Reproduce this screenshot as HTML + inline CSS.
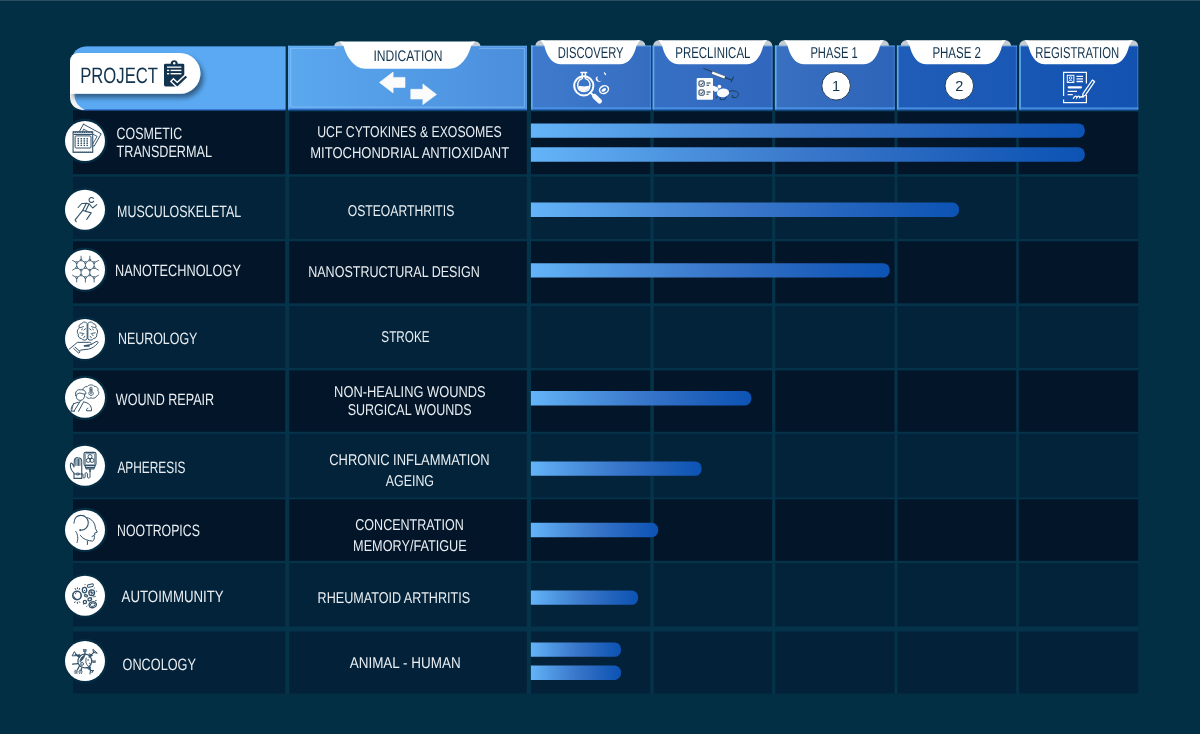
<!DOCTYPE html>
<html><head><meta charset="utf-8"><title>Pipeline</title>
<style>html,body{margin:0;padding:0;background:#032f45;}body{width:1200px;height:734px;overflow:hidden;font-family:"Liberation Sans",sans-serif;}svg{display:block;}text{font-family:"Liberation Sans",sans-serif;}svg{opacity:0.999;}text{text-rendering:geometricPrecision;}</style>
</head><body>
<svg width="1200" height="734" viewBox="0 0 1200 734">
<defs>
<linearGradient id="bar" x1="0" y1="0" x2="1" y2="0"><stop offset="0" stop-color="#64b4f9"/><stop offset="0.25" stop-color="#4d94df"/><stop offset="0.5" stop-color="#3977ca"/><stop offset="0.75" stop-color="#2263bd"/><stop offset="1" stop-color="#0c53b4"/></linearGradient>
<linearGradient id="g1" x1="0" y1="0" x2="1" y2="0"><stop offset="0" stop-color="#5ba8ef"/><stop offset="1" stop-color="#4b8edc"/></linearGradient>
<linearGradient id="g2" x1="0" y1="0" x2="1" y2="0"><stop offset="0" stop-color="#3f7bcd"/><stop offset="1" stop-color="#366dc1"/></linearGradient>
<linearGradient id="g3" x1="0" y1="0" x2="1" y2="0"><stop offset="0" stop-color="#3670c4"/><stop offset="1" stop-color="#3067bd"/></linearGradient>
<linearGradient id="g4" x1="0" y1="0" x2="1" y2="0"><stop offset="0" stop-color="#3970c1"/><stop offset="1" stop-color="#2e64b9"/></linearGradient>
<linearGradient id="g5" x1="0" y1="0" x2="1" y2="0"><stop offset="0" stop-color="#205db9"/><stop offset="1" stop-color="#1a58b5"/></linearGradient>
<linearGradient id="g6" x1="0" y1="0" x2="1" y2="0"><stop offset="0" stop-color="#1957b5"/><stop offset="1" stop-color="#1452b1"/></linearGradient>
<filter id="sh" x="-20%" y="-20%" width="150%" height="180%"><feGaussianBlur in="SourceAlpha" stdDeviation="2.6"/><feOffset dx="2.5" dy="3.6"/><feComponentTransfer><feFuncA type="linear" slope="0.45"/></feComponentTransfer><feMerge><feMergeNode/><feMergeNode in="SourceGraphic"/></feMerge></filter>
</defs>
<rect width="1200" height="734" fill="#032f45"/>
<rect x="0" y="0" width="1200" height="1" fill="#2c4d60"/>
<rect x="73" y="110" width="1065.2" height="583.6" fill="#05334a"/>
<rect x="73.0" y="110.4" width="212.2" height="63.8" fill="#021529"/>
<rect x="289.2" y="111.5" width="237.6" height="62.7" fill="#021529"/>
<rect x="531.0" y="111.5" width="119.3" height="62.7" fill="#021529"/>
<rect x="653.8" y="111.5" width="118.3" height="62.7" fill="#021529"/>
<rect x="775.3" y="111.5" width="119.2" height="62.7" fill="#021529"/>
<rect x="897.5" y="111.5" width="118.7" height="62.7" fill="#021529"/>
<rect x="1018.8" y="111.5" width="119.4" height="62.7" fill="#021529"/>
<rect x="73.0" y="176.6" width="212.2" height="62.4" fill="#03233a"/>
<rect x="289.2" y="176.6" width="237.6" height="62.4" fill="#03233a"/>
<rect x="531.0" y="176.6" width="119.3" height="62.4" fill="#03233a"/>
<rect x="653.8" y="176.6" width="118.3" height="62.4" fill="#03233a"/>
<rect x="775.3" y="176.6" width="119.2" height="62.4" fill="#03233a"/>
<rect x="897.5" y="176.6" width="118.7" height="62.4" fill="#03233a"/>
<rect x="1018.8" y="176.6" width="119.4" height="62.4" fill="#03233a"/>
<rect x="73.0" y="241.3" width="212.2" height="62.0" fill="#021529"/>
<rect x="289.2" y="241.3" width="237.6" height="62.0" fill="#021529"/>
<rect x="531.0" y="241.3" width="119.3" height="62.0" fill="#021529"/>
<rect x="653.8" y="241.3" width="118.3" height="62.0" fill="#021529"/>
<rect x="775.3" y="241.3" width="119.2" height="62.0" fill="#021529"/>
<rect x="897.5" y="241.3" width="118.7" height="62.0" fill="#021529"/>
<rect x="1018.8" y="241.3" width="119.4" height="62.0" fill="#021529"/>
<rect x="73.0" y="306.0" width="212.2" height="62.0" fill="#03233a"/>
<rect x="289.2" y="306.0" width="237.6" height="62.0" fill="#03233a"/>
<rect x="531.0" y="306.0" width="119.3" height="62.0" fill="#03233a"/>
<rect x="653.8" y="306.0" width="118.3" height="62.0" fill="#03233a"/>
<rect x="775.3" y="306.0" width="119.2" height="62.0" fill="#03233a"/>
<rect x="897.5" y="306.0" width="118.7" height="62.0" fill="#03233a"/>
<rect x="1018.8" y="306.0" width="119.4" height="62.0" fill="#03233a"/>
<rect x="73.0" y="370.4" width="212.2" height="61.3" fill="#021529"/>
<rect x="289.2" y="370.4" width="237.6" height="61.3" fill="#021529"/>
<rect x="531.0" y="370.4" width="119.3" height="61.3" fill="#021529"/>
<rect x="653.8" y="370.4" width="118.3" height="61.3" fill="#021529"/>
<rect x="775.3" y="370.4" width="119.2" height="61.3" fill="#021529"/>
<rect x="897.5" y="370.4" width="118.7" height="61.3" fill="#021529"/>
<rect x="1018.8" y="370.4" width="119.4" height="61.3" fill="#021529"/>
<rect x="73.0" y="433.8" width="212.2" height="63.7" fill="#03233a"/>
<rect x="289.2" y="433.8" width="237.6" height="63.7" fill="#03233a"/>
<rect x="531.0" y="433.8" width="119.3" height="63.7" fill="#03233a"/>
<rect x="653.8" y="433.8" width="118.3" height="63.7" fill="#03233a"/>
<rect x="775.3" y="433.8" width="119.2" height="63.7" fill="#03233a"/>
<rect x="897.5" y="433.8" width="118.7" height="63.7" fill="#03233a"/>
<rect x="1018.8" y="433.8" width="119.4" height="63.7" fill="#03233a"/>
<rect x="73.0" y="499.3" width="212.2" height="61.5" fill="#021529"/>
<rect x="289.2" y="499.3" width="237.6" height="61.5" fill="#021529"/>
<rect x="531.0" y="499.3" width="119.3" height="61.5" fill="#021529"/>
<rect x="653.8" y="499.3" width="118.3" height="61.5" fill="#021529"/>
<rect x="775.3" y="499.3" width="119.2" height="61.5" fill="#021529"/>
<rect x="897.5" y="499.3" width="118.7" height="61.5" fill="#021529"/>
<rect x="1018.8" y="499.3" width="119.4" height="61.5" fill="#021529"/>
<rect x="73.0" y="563.0" width="212.2" height="63.5" fill="#03233a"/>
<rect x="289.2" y="563.0" width="237.6" height="63.5" fill="#03233a"/>
<rect x="531.0" y="563.0" width="119.3" height="63.5" fill="#03233a"/>
<rect x="653.8" y="563.0" width="118.3" height="63.5" fill="#03233a"/>
<rect x="775.3" y="563.0" width="119.2" height="63.5" fill="#03233a"/>
<rect x="897.5" y="563.0" width="118.7" height="63.5" fill="#03233a"/>
<rect x="1018.8" y="563.0" width="119.4" height="63.5" fill="#03233a"/>
<rect x="73.0" y="631.5" width="212.2" height="62.1" fill="#03223a"/>
<rect x="289.2" y="631.5" width="237.6" height="62.1" fill="#03223a"/>
<rect x="531.0" y="631.5" width="119.3" height="62.1" fill="#03223a"/>
<rect x="653.8" y="631.5" width="118.3" height="62.1" fill="#03223a"/>
<rect x="775.3" y="631.5" width="119.2" height="62.1" fill="#03223a"/>
<rect x="897.5" y="631.5" width="118.7" height="62.1" fill="#03223a"/>
<rect x="1018.8" y="631.5" width="119.4" height="62.1" fill="#03223a"/>
<path d="M87 46.6 H285.5 V110.5 H84 C76 110.5 72 104 72 96 V61 C72 52 78 46.6 87 46.6 Z" fill="#2f6ac6"/>
<path d="M87 46.6 H285.5 V109.2 H84 C76 109.2 72 104 72 96 V61 C72 52 78 46.6 87 46.6 Z" fill="#5aa9f2"/>
<path d="M70 90 V97 C70 105 75 109.9 85 109.9 C79 107 75.2 103 74.6 96 V90 Z" fill="#f2f4f6"/>
<g filter="url(#sh)"><path d="M78 53 H180 A20.4 20.4 0 0 1 180 93.8 H70 V61 A8 8 0 0 1 78 53 Z" fill="#ffffff"/></g>
<text x="80.2" y="83" font-size="22.3" fill="#12334d" textLength="77.8" lengthAdjust="spacingAndGlyphs">PROJECT</text>
<g transform="translate(164,60.3)"><path d="M1.5 3.4 H6.6 C6.9 1 8.5 0 10.2 0 C12 0 13.5 1 13.8 3.4 H18.9 Q20.3 3.4 20.3 4.8 V24.7 Q20.3 26.1 18.9 26.1 H1.5 Q0 26.1 0 24.7 V4.8 Q0 3.4 1.5 3.4 Z" fill="#12334d"/><circle cx="10.2" cy="2.9" r="1.2" fill="#fff"/><rect x="3" y="6.2" width="14.4" height="1.3" fill="#fff"/><rect x="3" y="9.4" width="2.2" height="1.4" fill="#fff"/><rect x="6.6" y="9.4" width="10.8" height="1.4" fill="#fff"/><rect x="3" y="12.7" width="2.2" height="1.4" fill="#fff"/><rect x="6.6" y="12.7" width="10.8" height="1.4" fill="#fff"/><path d="M7.6 19.4 L13.3 24.6 L23.2 15.4" fill="none" stroke="#ffffff" stroke-width="5.2" stroke-linecap="butt" stroke-linejoin="miter"/><path d="M14.5 27 L21.5 20 V27 Z" fill="#ffffff"/><path d="M8.6 20.3 L13.3 24.6 L22.3 16.2" fill="none" stroke="#12334d" stroke-width="2.3" stroke-linecap="butt" stroke-linejoin="miter"/></g>
<rect x="288.0" y="45.8" width="239.0" height="63.3" fill="url(#g1)"/>
<rect x="288.0" y="108.6" width="239.0" height="1.8" fill="#2a60ba"/>
<rect x="288.0" y="45.8" width="1.7" height="63.7" fill="#62adf3" opacity="0.95"/>
<rect x="288.0" y="107.4" width="239.0" height="1.7" fill="#4f9bea" opacity="0.8"/>
<rect x="288.0" y="45.8" width="239.0" height="1.2" fill="#66b0f5" opacity="0.6"/>
<rect x="525.8" y="45.8" width="1.2" height="63.7" fill="#66b0f5" opacity="0.35"/>
<path d="M334.2 46.1 A5.4 5.4 0 0 1 339.6 41.6 H343.2 V46.1 Z" fill="#c3ccd4"/>
<path d="M480.5 46.1 A5.4 5.4 0 0 0 475.1 41.6 H471.5 V46.1 Z" fill="#c3ccd4"/>
<path d="M339.4 41.6 H475.3 C474.1 42.8 472.9 44.8 471.0 46.3 C468.5 56.3 460.5 68.8 449.5 68.8 H365.2 C354.2 68.8 346.2 56.3 343.7 46.3 C341.8 44.8 340.6 42.8 339.4 41.6 Z" fill="#ffffff"/>
<text x="373.4" y="61.0" font-size="15.4" fill="#12334d" textLength="69.1" lengthAdjust="spacingAndGlyphs">INDICATION</text>
<rect x="531.0" y="45.5" width="120.2" height="63.6" fill="url(#g2)"/>
<rect x="531.0" y="108.6" width="120.2" height="1.8" fill="#2a60ba"/>
<rect x="531.0" y="45.5" width="1.7" height="64.0" fill="#62adf3" opacity="0.95"/>
<rect x="531.0" y="107.4" width="120.2" height="1.7" fill="#4f9bea" opacity="0.8"/>
<rect x="531.0" y="45.5" width="120.2" height="1.2" fill="#66b0f5" opacity="0.6"/>
<rect x="650.0" y="45.5" width="1.2" height="64.0" fill="#66b0f5" opacity="0.35"/>
<path d="M535.4 45.8 A5.4 5.4 0 0 1 540.8 40.3 H544.4 V45.8 Z" fill="#c3ccd4"/>
<path d="M645.4 45.8 A5.4 5.4 0 0 0 640.0 40.3 H636.4 V45.8 Z" fill="#c3ccd4"/>
<path d="M540.6 40.3 H640.2 C639.0 41.5 637.8 43.5 636.4 46.0 C634.4 54.5 629.4 64.2 620.4 64.2 H560.4 C551.4 64.2 546.4 54.5 544.4 46.0 C543.0 43.5 541.8 41.5 540.6 40.3 Z" fill="#ffffff"/>
<text x="557.7" y="57.8" font-size="15.8" fill="#12334d" textLength="65.9" lengthAdjust="spacingAndGlyphs">DISCOVERY</text>
<rect x="652.6" y="45.5" width="120.0" height="63.6" fill="url(#g3)"/>
<rect x="652.6" y="108.6" width="120.0" height="1.8" fill="#2a60ba"/>
<rect x="652.6" y="45.5" width="1.7" height="64.0" fill="#62adf3" opacity="0.95"/>
<rect x="652.6" y="107.4" width="120.0" height="1.7" fill="#4f9bea" opacity="0.8"/>
<rect x="652.6" y="45.5" width="120.0" height="1.2" fill="#66b0f5" opacity="0.6"/>
<rect x="771.4" y="45.5" width="1.2" height="64.0" fill="#66b0f5" opacity="0.35"/>
<path d="M653.2 45.8 A5.4 5.4 0 0 1 658.6 40.3 H662.2 V45.8 Z" fill="#c3ccd4"/>
<path d="M772.2 45.8 A5.4 5.4 0 0 0 766.8 40.3 H763.2 V45.8 Z" fill="#c3ccd4"/>
<path d="M658.4 40.3 H767.0 C765.8 41.5 764.6 43.5 763.2 46.0 C761.2 54.5 756.2 64.2 747.2 64.2 H678.2 C669.2 64.2 664.2 54.5 662.2 46.0 C660.8 43.5 659.6 41.5 658.4 40.3 Z" fill="#ffffff"/>
<text x="675.3" y="57.8" font-size="15.8" fill="#12334d" textLength="75.1" lengthAdjust="spacingAndGlyphs">PRECLINICAL</text>
<rect x="774.9" y="45.5" width="119.9" height="63.6" fill="url(#g4)"/>
<rect x="774.9" y="108.6" width="119.9" height="1.8" fill="#2a60ba"/>
<rect x="774.9" y="45.5" width="1.7" height="64.0" fill="#62adf3" opacity="0.95"/>
<rect x="774.9" y="107.4" width="119.9" height="1.7" fill="#4f9bea" opacity="0.8"/>
<rect x="774.9" y="45.5" width="119.9" height="1.2" fill="#66b0f5" opacity="0.6"/>
<rect x="893.6" y="45.5" width="1.2" height="64.0" fill="#66b0f5" opacity="0.35"/>
<path d="M778.7 45.8 A5.4 5.4 0 0 1 784.1 40.3 H787.7 V45.8 Z" fill="#c3ccd4"/>
<path d="M889.0 45.8 A5.4 5.4 0 0 0 883.6 40.3 H880.0 V45.8 Z" fill="#c3ccd4"/>
<path d="M783.9 40.3 H883.8 C882.6 41.5 881.4 43.5 880.0 46.0 C878.0 54.5 873.0 64.2 864.0 64.2 H803.7 C794.7 64.2 789.7 54.5 787.7 46.0 C786.3 43.5 785.1 41.5 783.9 40.3 Z" fill="#ffffff"/>
<text x="810.4" y="57.8" font-size="15.8" fill="#12334d" textLength="47.3" lengthAdjust="spacingAndGlyphs">PHASE 1</text>
<rect x="896.9" y="45.5" width="120.1" height="63.6" fill="url(#g5)"/>
<rect x="896.9" y="108.6" width="120.1" height="1.8" fill="#2a60ba"/>
<rect x="896.9" y="45.5" width="1.7" height="64.0" fill="#62adf3" opacity="0.95"/>
<rect x="896.9" y="107.4" width="120.1" height="1.7" fill="#4f9bea" opacity="0.8"/>
<rect x="896.9" y="45.5" width="120.1" height="1.2" fill="#66b0f5" opacity="0.6"/>
<rect x="1015.8" y="45.5" width="1.2" height="64.0" fill="#66b0f5" opacity="0.35"/>
<path d="M900.7 45.8 A5.4 5.4 0 0 1 906.1 40.3 H909.7 V45.8 Z" fill="#c3ccd4"/>
<path d="M1011.0 45.8 A5.4 5.4 0 0 0 1005.6 40.3 H1002.0 V45.8 Z" fill="#c3ccd4"/>
<path d="M905.9 40.3 H1005.8 C1004.6 41.5 1003.4 43.5 1002.0 46.0 C1000.0 54.5 995.0 64.2 986.0 64.2 H925.7 C916.7 64.2 911.7 54.5 909.7 46.0 C908.3 43.5 907.1 41.5 905.9 40.3 Z" fill="#ffffff"/>
<text x="932.4" y="57.8" font-size="15.8" fill="#12334d" textLength="48.6" lengthAdjust="spacingAndGlyphs">PHASE 2</text>
<rect x="1019.2" y="45.5" width="119.1" height="63.6" fill="url(#g6)"/>
<rect x="1019.2" y="108.6" width="119.1" height="1.8" fill="#2a60ba"/>
<rect x="1019.2" y="45.5" width="1.7" height="64.0" fill="#62adf3" opacity="0.95"/>
<rect x="1019.2" y="107.4" width="119.1" height="1.7" fill="#4f9bea" opacity="0.8"/>
<rect x="1019.2" y="45.5" width="119.1" height="1.2" fill="#66b0f5" opacity="0.6"/>
<rect x="1137.1" y="45.5" width="1.2" height="64.0" fill="#66b0f5" opacity="0.35"/>
<path d="M1019.4 45.8 A5.4 5.4 0 0 1 1024.8 40.3 H1028.4 V45.8 Z" fill="#c3ccd4"/>
<path d="M1138.1 45.8 A5.4 5.4 0 0 0 1132.7 40.3 H1129.1 V45.8 Z" fill="#c3ccd4"/>
<path d="M1024.6 40.3 H1132.9 C1131.7 41.5 1130.5 43.5 1129.1 46.0 C1127.1 54.5 1122.1 64.2 1113.1 64.2 H1044.4 C1035.4 64.2 1030.4 54.5 1028.4 46.0 C1027.0 43.5 1025.8 41.5 1024.6 40.3 Z" fill="#ffffff"/>
<text x="1035.3" y="58.0" font-size="15.8" fill="#12334d" textLength="83.9" lengthAdjust="spacingAndGlyphs">REGISTRATION</text>
<path d="M336 48.3 H290.7 V107.1 H524.4 V48.3 H479" fill="none" stroke="#9fcdf9" stroke-width="1" opacity="0.55"/>
<path d="M379.5 82.4 L393.1 72.1 V77.4 H405 V87.4 H393.1 V93 Z" fill="#fbfbfb" stroke="#fbfbfb" stroke-width="0.6" stroke-linejoin="round"/>
<path d="M436.5 94.5 L422.9 84 V89.3 H410.8 V99 H422.9 V104.6 Z" fill="#fbfbfb" stroke="#fbfbfb" stroke-width="0.6" stroke-linejoin="round"/>
<circle cx="836.1" cy="85.8" r="14.3" fill="#ffffff" stroke="#1d3c58" stroke-width="1"/>
<text x="836.1" y="91.2" font-size="14.5" fill="#12334d" text-anchor="middle">1</text>
<circle cx="959.3" cy="85.8" r="14.3" fill="#ffffff" stroke="#1d3c58" stroke-width="1"/>
<text x="959.3" y="91.2" font-size="14.5" fill="#12334d" text-anchor="middle">2</text>
<g id="ic-discovery" fill="none" stroke="#fbfbfb" stroke-linecap="round" stroke-linejoin="round"><circle cx="583.8" cy="85.8" r="9.6" stroke-width="2"/><path d="M590.4 92.6 L594 96" stroke-width="2"/><path d="M594.6 96.4 L599.6 101.2" stroke-width="4.8"/><path d="M581 72.6 H586.6 M582.2 73 V78.5 C578 80 577.5 84 577.8 86 C578.3 90.5 581.5 91.6 583.8 91.6 C586.2 91.6 589.4 90.5 589.9 86 C590.2 84 589.6 80 585.4 78.5 V73" stroke-width="1.5"/><path d="M578.4 86.4 C580.5 85 583 87.6 589.4 85.6 C589 90 586 91.2 583.8 91.2 C581.6 91.2 578.8 90.2 578.4 86.4 Z" fill="#fbfbfb" stroke="none"/><ellipse cx="604" cy="89.6" rx="4.6" ry="3.7" transform="rotate(-25 604 89.6)" stroke-width="1.5"/><ellipse cx="603.8" cy="89.9" rx="2.5" ry="1.5" transform="rotate(-32 603.8 89.9)" fill="#fbfbfb" stroke="none"/><path d="M596.3 77 A3 3 0 0 0 601.7 80.3 A2.1 2.1 0 0 1 598.1 76.6 Z" fill="#fbfbfb" stroke="none"/><path d="M604.4 72.8 L605.6 74.6" stroke-width="1.2"/></g>
<g id="ic-preclinical"><rect x="696.7" y="77.9" width="16.3" height="21.8" rx="1" fill="#fbfbfb"/><rect x="699" y="81" width="5.2" height="5.2" rx="1" fill="none" stroke="#1d3c58" stroke-width="1"/><rect x="699" y="90" width="5.2" height="5.2" rx="1" fill="none" stroke="#1d3c58" stroke-width="1"/><path d="M700.3 83.8 L701.4 84.9 L703.2 82.4 M700.3 92.8 L701.4 93.9 L703.2 91.4" fill="none" stroke="#1d3c58" stroke-width="1"/><path d="M706.5 83 H710.5 M706.5 85.2 H709 M706.5 92 H710.5 M706.5 94.2 H708.6" stroke="#1d3c58" stroke-width="1.1" fill="none"/><path d="M703.4 68.4 L711.8 71.6" stroke="#1d3c58" stroke-width="1" fill="none"/><path d="M712.4 71.1 L725.6 76.1 L724.5 79 L711.3 74 Z" fill="#fbfbfb" stroke="#1d3c58" stroke-width="0.6"/><path d="M725 77.6 L731.5 80 M733.6 76.6 L731 82.4" stroke="#1d3c58" stroke-width="1.1" fill="none"/><ellipse cx="723" cy="92.9" rx="6.2" ry="4.4" fill="#fbfbfb" transform="rotate(-8 723 92.9)"/><path d="M709.6 86.4 C712 85.2 716 85.6 718.5 88.4 C719 91 716 92.4 714.4 91.4 C712.6 90 711 88 709.6 86.4 Z" fill="#fbfbfb"/><circle cx="719.4" cy="86.6" r="1.9" fill="#fbfbfb"/><path d="M729 91.6 C733 90 738.6 91 738.4 94.4 C738.2 97.4 734.6 98.6 732.6 96.8 M732.4 95 L732.4 97.4 L734.8 97.6" fill="none" stroke="#1d3c58" stroke-width="1"/><path d="M717.5 96 L716 98.4 M720 97.2 L720.4 99.6 L722.6 99.8 M726.6 96.6 L725 99.4 L723 99.6" fill="none" stroke="#1d3c58" stroke-width="1"/></g>
<g id="ic-registration" fill="none" stroke="#fbfbfb" stroke-width="1.2"><path d="M1063.6 96 V72.3 H1086.4 V83.5 M1086.4 95 V102.7 H1063.6 V99.5"/><rect x="1067.3" y="75.3" width="6.6" height="7.2" stroke-width="1"/><circle cx="1070.6" cy="78" r="1.3" stroke-width="0.9"/><path d="M1068.2 82.3 C1068.4 79.8 1072.8 79.8 1073 82.3" stroke-width="0.9"/><path d="M1076.5 76.3 H1083 M1076.5 78.9 H1083 M1076.5 81.5 H1083" stroke-width="1.3"/><rect x="1067.6" y="86.2" width="14.4" height="2.2" rx="1.1" fill="#fbfbfb" stroke="none"/><path d="M1067.6 91.4 H1077 M1067.6 94.6 H1072.8" stroke-width="1.4"/><path d="M1092.4 80 L1094.6 81.6 L1085.4 95.2 L1082.6 96.8 L1083 93.6 Z" stroke-width="1.3" stroke-linejoin="round"/><path d="M1073.4 98.4 C1075 95.6 1076.6 95.4 1076.8 97.6 C1078 95.6 1079.6 95.6 1079.6 97.4 C1080.6 96.6 1082 96.6 1083.4 97" stroke-width="1.3" stroke-linecap="round"/></g>
<path d="M530.9 123.4 H1078.3 A6.5 6.5 0 0 1 1084.8 129.9 V131.3 A6.5 6.5 0 0 1 1078.3 137.8 H530.9 Z" fill="url(#bar)"/>
<path d="M530.9 147.3 H1078.3 A6.5 6.5 0 0 1 1084.8 153.8 V155.2 A6.5 6.5 0 0 1 1078.3 161.7 H530.9 Z" fill="url(#bar)"/>
<path d="M530.9 202.6 H952.5 A6.5 6.5 0 0 1 959.0 209.1 V210.5 A6.5 6.5 0 0 1 952.5 217.0 H530.9 Z" fill="url(#bar)"/>
<path d="M530.9 263.2 H883.2 A6.5 6.5 0 0 1 889.7 269.7 V271.1 A6.5 6.5 0 0 1 883.2 277.6 H530.9 Z" fill="url(#bar)"/>
<path d="M530.9 391.1 H744.9 A6.5 6.5 0 0 1 751.4 397.6 V399.0 A6.5 6.5 0 0 1 744.9 405.5 H530.9 Z" fill="url(#bar)"/>
<path d="M530.9 461.4 H695.1 A6.5 6.5 0 0 1 701.6 467.9 V469.3 A6.5 6.5 0 0 1 695.1 475.8 H530.9 Z" fill="url(#bar)"/>
<path d="M530.9 522.8 H651.7 A6.5 6.5 0 0 1 658.2 529.3 V530.7 A6.5 6.5 0 0 1 651.7 537.2 H530.9 Z" fill="url(#bar)"/>
<path d="M530.9 590.4 H631.6 A6.5 6.5 0 0 1 638.1 596.9 V598.3 A6.5 6.5 0 0 1 631.6 604.8 H530.9 Z" fill="url(#bar)"/>
<path d="M530.9 642.4 H614.5 A6.5 6.5 0 0 1 621.0 648.9 V650.3 A6.5 6.5 0 0 1 614.5 656.8 H530.9 Z" fill="url(#bar)"/>
<path d="M530.9 665.6 H614.5 A6.5 6.5 0 0 1 621.0 672.1 V673.5 A6.5 6.5 0 0 1 614.5 680.0 H530.9 Z" fill="url(#bar)"/>
<text x="116.6" y="138.6" font-size="16.5" fill="#e9eef2" textLength="65.6" lengthAdjust="spacingAndGlyphs">COSMETIC</text>
<text x="116.6" y="156.7" font-size="16.5" fill="#e9eef2" textLength="95.3" lengthAdjust="spacingAndGlyphs">TRANSDERMAL</text>
<text x="117.1" y="216.5" font-size="16.5" fill="#e9eef2" textLength="124.1" lengthAdjust="spacingAndGlyphs">MUSCULOSKELETAL</text>
<text x="115.1" y="275.5" font-size="16.5" fill="#e9eef2" textLength="125.8" lengthAdjust="spacingAndGlyphs">NANOTECHNOLOGY</text>
<text x="117.9" y="344.1" font-size="16.5" fill="#e9eef2" textLength="79.5" lengthAdjust="spacingAndGlyphs">NEUROLOGY</text>
<text x="115.8" y="405.3" font-size="16.5" fill="#e9eef2" textLength="98.4" lengthAdjust="spacingAndGlyphs">WOUND REPAIR</text>
<text x="117.4" y="473.3" font-size="16.5" fill="#e9eef2" textLength="68.0" lengthAdjust="spacingAndGlyphs">APHERESIS</text>
<text x="117.1" y="536.1" font-size="16.5" fill="#e9eef2" textLength="82.8" lengthAdjust="spacingAndGlyphs">NOOTROPICS</text>
<text x="121.6" y="602.0" font-size="16.5" fill="#e9eef2" textLength="102.1" lengthAdjust="spacingAndGlyphs">AUTOIMMUNITY</text>
<text x="122.6" y="670.0" font-size="16.5" fill="#e9eef2" textLength="73.3" lengthAdjust="spacingAndGlyphs">ONCOLOGY</text>
<text x="317.2" y="136.7" font-size="15.6" fill="#e9eef2" textLength="184.5" lengthAdjust="spacingAndGlyphs">UCF CYTOKINES &amp; EXOSOMES</text>
<text x="310.2" y="158.1" font-size="15.6" fill="#e9eef2" textLength="199.0" lengthAdjust="spacingAndGlyphs">MITOCHONDRIAL ANTIOXIDANT</text>
<text x="347.7" y="216.3" font-size="15.6" fill="#e9eef2" textLength="106.6" lengthAdjust="spacingAndGlyphs">OSTEOARTHRITIS</text>
<text x="308.2" y="277.2" font-size="15.6" fill="#e9eef2" textLength="171.5" lengthAdjust="spacingAndGlyphs">NANOSTRUCTURAL DESIGN</text>
<text x="381.3" y="341.7" font-size="15.6" fill="#e9eef2" textLength="48.3" lengthAdjust="spacingAndGlyphs">STROKE</text>
<text x="334.1" y="397.1" font-size="15.6" fill="#e9eef2" textLength="151.6" lengthAdjust="spacingAndGlyphs">NON-HEALING WOUNDS</text>
<text x="347.7" y="415.1" font-size="15.6" fill="#e9eef2" textLength="124.0" lengthAdjust="spacingAndGlyphs">SURGICAL WOUNDS</text>
<text x="329.3" y="464.7" font-size="15.6" fill="#e9eef2" textLength="160.4" lengthAdjust="spacingAndGlyphs">CHRONIC INFLAMMATION</text>
<text x="385.8" y="486.3" font-size="15.6" fill="#e9eef2" textLength="48.2" lengthAdjust="spacingAndGlyphs">AGEING</text>
<text x="355.3" y="529.5" font-size="15.6" fill="#e9eef2" textLength="108.4" lengthAdjust="spacingAndGlyphs">CONCENTRATION</text>
<text x="353.1" y="551.2" font-size="15.6" fill="#e9eef2" textLength="113.6" lengthAdjust="spacingAndGlyphs">MEMORY/FATIGUE</text>
<text x="317.6" y="602.7" font-size="15.6" fill="#e9eef2" textLength="152.5" lengthAdjust="spacingAndGlyphs">RHEUMATOID ARTHRITIS</text>
<text x="349.7" y="667.6" font-size="15.6" fill="#e9eef2" textLength="111.0" lengthAdjust="spacingAndGlyphs">ANIMAL - HUMAN</text>
<circle cx="85" cy="140.9" r="22.3" fill="#042c42"/>
<circle cx="85" cy="140.9" r="20" fill="#ffffff"/>
<circle cx="85" cy="209.7" r="22.3" fill="#042c42"/>
<circle cx="85" cy="209.7" r="20" fill="#ffffff"/>
<circle cx="85" cy="269.7" r="22.3" fill="#042c42"/>
<circle cx="85" cy="269.7" r="20" fill="#ffffff"/>
<circle cx="85" cy="338.9" r="22.3" fill="#042c42"/>
<circle cx="85" cy="338.9" r="20" fill="#ffffff"/>
<circle cx="85" cy="397.8" r="22.3" fill="#042c42"/>
<circle cx="85" cy="397.8" r="20" fill="#ffffff"/>
<circle cx="85" cy="465.8" r="22.3" fill="#042c42"/>
<circle cx="85" cy="465.8" r="20" fill="#ffffff"/>
<circle cx="85" cy="529.9" r="22.3" fill="#042c42"/>
<circle cx="85" cy="529.9" r="20" fill="#ffffff"/>
<circle cx="85" cy="595.7" r="22.3" fill="#042c42"/>
<circle cx="85" cy="595.7" r="20" fill="#ffffff"/>
<circle cx="85" cy="661.0" r="22.3" fill="#042c42"/>
<circle cx="85" cy="661.0" r="20" fill="#ffffff"/>
<polyline points="83.5,124.2 101.2,133.8 94.1,146.3 92.8,145.4" fill="none" stroke="#33526a" stroke-width="1.00" stroke-linecap="round" stroke-linejoin="round" />
<polyline points="83.5,124.2 79.4,131.5" fill="none" stroke="#33526a" stroke-width="1.00" stroke-linecap="round" stroke-linejoin="round" />
<polyline points="83.8,129.3 97.1,136.4 92.8,143.9" fill="none" stroke="#33526a" stroke-width="0.90" stroke-linecap="round" stroke-linejoin="round" />
<polyline points="83.8,129.3 82.5,131.5" fill="none" stroke="#33526a" stroke-width="0.90" stroke-linecap="round" stroke-linejoin="round" />
<rect x="73.1" y="131.8" width="19.6" height="20.5" fill="#ffffff" stroke="#33526a" stroke-width="1.1" stroke-dasharray="" />
<line x1="73.1" y1="132.3" x2="92.7" y2="132.3" stroke="#33526a" stroke-width="1.4" stroke-dasharray="1.2 0.6"/>
<line x1="73.1" y1="152.1" x2="92.7" y2="152.1" stroke="#33526a" stroke-width="1.0" stroke-dasharray="1.4 0.7"/>
<line x1="73.6" y1="134.4" x2="92.2" y2="134.4" stroke="#33526a" stroke-width="1.2"/>
<rect x="75.1" y="135.9" width="15.9" height="12.1" rx="1" fill="none" stroke="#33526a" stroke-width="1.0"/>
<line x1="78.3" y1="137.9" x2="78.3" y2="146.0" stroke="#33526a" stroke-width="1.5" stroke-dasharray="1.6 0.7"/>
<line x1="81.3" y1="137.9" x2="81.3" y2="146.0" stroke="#33526a" stroke-width="1.5" stroke-dasharray="1.6 0.7"/>
<line x1="84.3" y1="137.9" x2="84.3" y2="146.0" stroke="#33526a" stroke-width="1.5" stroke-dasharray="1.6 0.7"/>
<line x1="87.2" y1="137.9" x2="87.2" y2="146.0" stroke="#33526a" stroke-width="1.5" stroke-dasharray="1.6 0.7"/>
<path d="M93.4 198.3 A2.5 2.5 0 1 0 93.7 201.2" fill="none" stroke="#33526a" stroke-width="1.1" stroke-linecap="round"/>
<polyline points="78.1,207.5 81.8,203.5 87.2,203.4" fill="none" stroke="#33526a" stroke-width="1.10" stroke-linecap="round" stroke-linejoin="round" />
<polyline points="86.2,203.5 82.8,210.3" fill="none" stroke="#33526a" stroke-width="1.10" stroke-linecap="round" stroke-linejoin="round" />
<polyline points="89.0,204.1 85.5,211.2" fill="none" stroke="#33526a" stroke-width="1.10" stroke-linecap="round" stroke-linejoin="round" />
<polyline points="87.2,203.4 89.3,204.1 92.7,208.0 96.8,204.6" fill="none" stroke="#33526a" stroke-width="1.10" stroke-linecap="round" stroke-linejoin="round" />
<polyline points="82.8,210.3 75.1,219.9 76.2,221.8" fill="none" stroke="#33526a" stroke-width="1.10" stroke-linecap="round" stroke-linejoin="round" />
<polyline points="83.2,210.5 85.5,211.2 91.2,212.9 86.9,219.1 86.6,219.4" fill="none" stroke="#33526a" stroke-width="1.10" stroke-linecap="round" stroke-linejoin="round" />
<polyline points="81.1,260.1 76.7,262.6" fill="none" stroke="#33526a" stroke-width="0.85" stroke-linecap="round" stroke-linejoin="round" />
<polyline points="81.1,260.1 85.4,262.6" fill="none" stroke="#33526a" stroke-width="0.85" stroke-linecap="round" stroke-linejoin="round" />
<polyline points="89.8,260.1 85.4,262.6" fill="none" stroke="#33526a" stroke-width="0.85" stroke-linecap="round" stroke-linejoin="round" />
<polyline points="89.8,260.1 94.1,262.6" fill="none" stroke="#33526a" stroke-width="0.85" stroke-linecap="round" stroke-linejoin="round" />
<polyline points="76.7,262.6 76.7,267.6" fill="none" stroke="#33526a" stroke-width="0.85" stroke-linecap="round" stroke-linejoin="round" />
<polyline points="85.4,262.6 85.4,267.6" fill="none" stroke="#33526a" stroke-width="0.85" stroke-linecap="round" stroke-linejoin="round" />
<polyline points="94.1,262.6 94.1,267.6" fill="none" stroke="#33526a" stroke-width="0.85" stroke-linecap="round" stroke-linejoin="round" />
<polyline points="76.7,267.6 81.1,270.1" fill="none" stroke="#33526a" stroke-width="0.85" stroke-linecap="round" stroke-linejoin="round" />
<polyline points="85.4,267.6 81.1,270.1" fill="none" stroke="#33526a" stroke-width="0.85" stroke-linecap="round" stroke-linejoin="round" />
<polyline points="85.4,267.6 89.8,270.1" fill="none" stroke="#33526a" stroke-width="0.85" stroke-linecap="round" stroke-linejoin="round" />
<polyline points="94.1,267.6 89.8,270.1" fill="none" stroke="#33526a" stroke-width="0.85" stroke-linecap="round" stroke-linejoin="round" />
<polyline points="81.1,270.1 81.1,275.1" fill="none" stroke="#33526a" stroke-width="0.85" stroke-linecap="round" stroke-linejoin="round" />
<polyline points="89.8,270.1 89.8,275.1" fill="none" stroke="#33526a" stroke-width="0.85" stroke-linecap="round" stroke-linejoin="round" />
<polyline points="81.1,275.1 76.7,277.6" fill="none" stroke="#33526a" stroke-width="0.85" stroke-linecap="round" stroke-linejoin="round" />
<polyline points="81.1,275.1 85.4,277.6" fill="none" stroke="#33526a" stroke-width="0.85" stroke-linecap="round" stroke-linejoin="round" />
<polyline points="89.8,275.1 85.4,277.6" fill="none" stroke="#33526a" stroke-width="0.85" stroke-linecap="round" stroke-linejoin="round" />
<polyline points="89.8,275.1 94.1,277.6" fill="none" stroke="#33526a" stroke-width="0.85" stroke-linecap="round" stroke-linejoin="round" />
<polyline points="81.1,260.1 81.1,256.2" fill="none" stroke="#33526a" stroke-width="0.85" stroke-linecap="round" stroke-linejoin="round" />
<polyline points="89.8,260.1 89.8,256.2" fill="none" stroke="#33526a" stroke-width="0.85" stroke-linecap="round" stroke-linejoin="round" />
<polyline points="76.7,277.6 76.7,282.1" fill="none" stroke="#33526a" stroke-width="0.85" stroke-linecap="round" stroke-linejoin="round" />
<polyline points="85.4,277.6 85.4,282.1" fill="none" stroke="#33526a" stroke-width="0.85" stroke-linecap="round" stroke-linejoin="round" />
<polyline points="94.1,277.6 94.1,282.1" fill="none" stroke="#33526a" stroke-width="0.85" stroke-linecap="round" stroke-linejoin="round" />
<polyline points="76.7,262.6 72.6,260.5" fill="none" stroke="#33526a" stroke-width="0.85" stroke-linecap="round" stroke-linejoin="round" />
<polyline points="94.1,262.6 98.5,260.5" fill="none" stroke="#33526a" stroke-width="0.85" stroke-linecap="round" stroke-linejoin="round" />
<polyline points="76.7,267.6 72.6,270.1" fill="none" stroke="#33526a" stroke-width="0.85" stroke-linecap="round" stroke-linejoin="round" />
<polyline points="94.1,267.6 98.5,270.1" fill="none" stroke="#33526a" stroke-width="0.85" stroke-linecap="round" stroke-linejoin="round" />
<polyline points="76.7,277.6 72.6,275.3" fill="none" stroke="#33526a" stroke-width="0.85" stroke-linecap="round" stroke-linejoin="round" />
<polyline points="94.1,277.6 98.5,275.3" fill="none" stroke="#33526a" stroke-width="0.85" stroke-linecap="round" stroke-linejoin="round" />
<circle cx="81.1" cy="260.1" r="1.0" fill="#33526a" stroke="#33526a" stroke-width="0.60"/>
<circle cx="81.1" cy="260.1" r="0.5" fill="#eef2f4" stroke="#33526a" stroke-width="0.00"/>
<circle cx="89.8" cy="260.1" r="1.0" fill="#33526a" stroke="#33526a" stroke-width="0.60"/>
<circle cx="89.8" cy="260.1" r="0.5" fill="#eef2f4" stroke="#33526a" stroke-width="0.00"/>
<circle cx="76.7" cy="262.6" r="1.0" fill="#33526a" stroke="#33526a" stroke-width="0.60"/>
<circle cx="76.7" cy="262.6" r="0.5" fill="#eef2f4" stroke="#33526a" stroke-width="0.00"/>
<circle cx="85.4" cy="262.6" r="1.0" fill="#33526a" stroke="#33526a" stroke-width="0.60"/>
<circle cx="85.4" cy="262.6" r="0.5" fill="#eef2f4" stroke="#33526a" stroke-width="0.00"/>
<circle cx="94.1" cy="262.6" r="1.0" fill="#33526a" stroke="#33526a" stroke-width="0.60"/>
<circle cx="94.1" cy="262.6" r="0.5" fill="#eef2f4" stroke="#33526a" stroke-width="0.00"/>
<circle cx="76.7" cy="267.6" r="1.0" fill="#33526a" stroke="#33526a" stroke-width="0.60"/>
<circle cx="76.7" cy="267.6" r="0.5" fill="#eef2f4" stroke="#33526a" stroke-width="0.00"/>
<circle cx="85.4" cy="267.6" r="1.0" fill="#33526a" stroke="#33526a" stroke-width="0.60"/>
<circle cx="85.4" cy="267.6" r="0.5" fill="#eef2f4" stroke="#33526a" stroke-width="0.00"/>
<circle cx="94.1" cy="267.6" r="1.0" fill="#33526a" stroke="#33526a" stroke-width="0.60"/>
<circle cx="94.1" cy="267.6" r="0.5" fill="#eef2f4" stroke="#33526a" stroke-width="0.00"/>
<circle cx="81.1" cy="270.1" r="1.0" fill="#33526a" stroke="#33526a" stroke-width="0.60"/>
<circle cx="81.1" cy="270.1" r="0.5" fill="#eef2f4" stroke="#33526a" stroke-width="0.00"/>
<circle cx="89.8" cy="270.1" r="1.0" fill="#33526a" stroke="#33526a" stroke-width="0.60"/>
<circle cx="89.8" cy="270.1" r="0.5" fill="#eef2f4" stroke="#33526a" stroke-width="0.00"/>
<circle cx="81.1" cy="275.1" r="1.0" fill="#33526a" stroke="#33526a" stroke-width="0.60"/>
<circle cx="81.1" cy="275.1" r="0.5" fill="#eef2f4" stroke="#33526a" stroke-width="0.00"/>
<circle cx="89.8" cy="275.1" r="1.0" fill="#33526a" stroke="#33526a" stroke-width="0.60"/>
<circle cx="89.8" cy="275.1" r="0.5" fill="#eef2f4" stroke="#33526a" stroke-width="0.00"/>
<circle cx="76.7" cy="277.6" r="1.0" fill="#33526a" stroke="#33526a" stroke-width="0.60"/>
<circle cx="76.7" cy="277.6" r="0.5" fill="#eef2f4" stroke="#33526a" stroke-width="0.00"/>
<circle cx="85.4" cy="277.6" r="1.0" fill="#33526a" stroke="#33526a" stroke-width="0.60"/>
<circle cx="85.4" cy="277.6" r="0.5" fill="#eef2f4" stroke="#33526a" stroke-width="0.00"/>
<circle cx="94.1" cy="277.6" r="1.0" fill="#33526a" stroke="#33526a" stroke-width="0.60"/>
<circle cx="94.1" cy="277.6" r="0.5" fill="#eef2f4" stroke="#33526a" stroke-width="0.00"/>
<path d="M86.9 323.2 C85.2 321.2 82.5 321.9 81.8 323.6 C79.4 323.9 78.4 326.3 79.4 328.0 C77.0 329.3 76.7 332.8 78.3 334.1 C77.7 336.5 79.4 338.5 81.3 338.5 C82.5 340.6 85.9 340.6 86.9 339.2 Z" fill="none" stroke="#33526a" stroke-width="1.00" stroke-linecap="round" stroke-linejoin="round"/>
<path d="M88.1 323.2 C89.8 321.2 92.5 321.9 93.2 323.6 C95.6 323.9 96.6 326.3 95.6 328.0 C97.9 329.3 98.3 332.8 96.7 334.1 C97.3 336.5 95.6 338.5 93.7 338.5 C92.5 340.6 89.1 340.6 88.1 339.2 Z" fill="none" stroke="#33526a" stroke-width="1.00" stroke-linecap="round" stroke-linejoin="round"/>
<polyline points="80.4,327.6 83.5,326.6" fill="none" stroke="#33526a" stroke-width="0.90" stroke-linecap="round" stroke-linejoin="round" />
<polyline points="81.5,329.7 82.5,329.0" fill="none" stroke="#33526a" stroke-width="0.90" stroke-linecap="round" stroke-linejoin="round" />
<polyline points="79.8,332.8 82.8,333.4" fill="none" stroke="#33526a" stroke-width="0.90" stroke-linecap="round" stroke-linejoin="round" />
<polyline points="81.8,335.8 83.8,333.4" fill="none" stroke="#33526a" stroke-width="0.90" stroke-linecap="round" stroke-linejoin="round" />
<polyline points="83.5,337.9 84.9,336.2" fill="none" stroke="#33526a" stroke-width="0.90" stroke-linecap="round" stroke-linejoin="round" />
<polyline points="83.8,330.0 85.5,328.7" fill="none" stroke="#33526a" stroke-width="0.90" stroke-linecap="round" stroke-linejoin="round" />
<polyline points="94.5,327.6 91.5,326.6" fill="none" stroke="#33526a" stroke-width="0.90" stroke-linecap="round" stroke-linejoin="round" />
<polyline points="93.5,329.7 92.5,329.0" fill="none" stroke="#33526a" stroke-width="0.90" stroke-linecap="round" stroke-linejoin="round" />
<polyline points="95.2,332.8 92.2,333.4" fill="none" stroke="#33526a" stroke-width="0.90" stroke-linecap="round" stroke-linejoin="round" />
<polyline points="93.2,335.8 91.1,333.4" fill="none" stroke="#33526a" stroke-width="0.90" stroke-linecap="round" stroke-linejoin="round" />
<polyline points="91.5,337.9 90.1,336.2" fill="none" stroke="#33526a" stroke-width="0.90" stroke-linecap="round" stroke-linejoin="round" />
<polyline points="91.1,330.0 89.4,328.7" fill="none" stroke="#33526a" stroke-width="0.90" stroke-linecap="round" stroke-linejoin="round" />
<path d="M68.9 349.4 L74.6 344.7 L77.4 342.4 L89.6 342.3 C91.7 342.4 91.5 344.5 90.0 344.7 L84.5 345.6" fill="none" stroke="#33526a" stroke-width="1.00" stroke-linecap="round" stroke-linejoin="round"/>
<path d="M91.0 344.7 L96.1 341.5 C97.8 340.8 98.7 342.4 97.3 343.7 C94.7 346.4 92.0 348.4 88.6 349.1 L80.4 350.1 L79.4 351.1" fill="none" stroke="#33526a" stroke-width="1.00" stroke-linecap="round" stroke-linejoin="round"/>
<polyline points="73.6,348.4 78.7,353.2 80.1,351.7 75.1,347.1" fill="none" stroke="#33526a" stroke-width="1.00" stroke-linecap="round" stroke-linejoin="round" />
<polyline points="84.5,345.9 89.0,345.9" fill="none" stroke="#33526a" stroke-width="1.60" stroke-linecap="round" stroke-linejoin="round" />
<path d="M76.3 395.7 C76.0 399.2 78.1 400.2 80.4 400.4 C83.5 400.2 84.9 397.5 84.7 394.4" fill="none" stroke="#33526a" stroke-width="1.00" stroke-linecap="round" stroke-linejoin="round"/>
<path d="M75.8 395.5 C74.6 391.4 77.7 389.3 80.4 389.8 C83.2 389.3 86.2 391.0 85.9 393.8 C83.2 395.1 80.4 391.7 77.8 393.8 C77.0 394.4 76.3 394.8 75.8 395.5" fill="none" stroke="#33526a" stroke-width="1.00" stroke-linecap="round" stroke-linejoin="round"/>
<path d="M71.2 411.1 C70.9 406.0 72.9 403.0 78.4 402.3" fill="none" stroke="#33526a" stroke-width="1.00" stroke-linecap="round" stroke-linejoin="round"/>
<path d="M83.5 401.9 C88.6 402.6 91.7 405.3 91.5 410.8 L86.6 410.8 C86.2 409.4 86.9 408.4 87.9 408.1" fill="none" stroke="#33526a" stroke-width="1.00" stroke-linecap="round" stroke-linejoin="round"/>
<polyline points="80.4,400.9 74.0,411.1" fill="none" stroke="#33526a" stroke-width="1.00" stroke-linecap="round" stroke-linejoin="round" />
<polyline points="83.2,402.6 78.5,411.3" fill="none" stroke="#33526a" stroke-width="1.00" stroke-linecap="round" stroke-linejoin="round" />
<polyline points="71.2,411.1 74.6,411.1" fill="none" stroke="#33526a" stroke-width="1.00" stroke-linecap="round" stroke-linejoin="round" />
<polyline points="73.5,403.3 72.1,409.4" fill="none" stroke="#33526a" stroke-width="0.80" stroke-linecap="round" stroke-linejoin="round" />
<path d="M82.8 389.7 C83.2 387.3 85.5 386.3 87.2 386.6 C88.6 384.6 92.7 384.2 94.1 386.3 C97.1 386.3 98.8 388.6 97.8 390.7 C99.5 392.4 98.8 395.1 96.8 395.8 C96.1 398.2 92.7 398.9 91.0 397.8 C89.3 398.9 86.9 398.5 86.2 396.8" fill="none" stroke="#33526a" stroke-width="0.90" stroke-linecap="round" stroke-linejoin="round"/>
<path d="M90.0 388.0 L90.0 391.4 C87.9 392.7 89.0 395.5 91.0 395.5 C93.4 395.5 94.1 392.7 92.0 391.4 L92.0 388.0 C91.9 386.9 90.1 386.9 90.0 388.0" fill="none" stroke="#33526a" stroke-width="0.90" stroke-linecap="round" stroke-linejoin="round"/>
<polyline points="91.0,389.3 91.0,393.8" fill="none" stroke="#33526a" stroke-width="1.20" stroke-linecap="round" stroke-linejoin="round" />
<path d="M74.0 478.4 L74.0 473.0 C71.2 470.6 70.2 467.2 70.4 464.1 C70.9 462.4 72.6 463.1 72.9 464.8 L74.0 466.9 L74.4 459.8 C74.9 458.0 76.7 457.3 77.8 457.8 C79.8 457.8 81.7 459.0 81.7 461.1 L81.8 478.4 Z" fill="none" stroke="#33526a" stroke-width="1.10" stroke-linecap="round" stroke-linejoin="round"/>
<polyline points="74.0,474.0 81.8,474.0" fill="none" stroke="#33526a" stroke-width="1.00" stroke-linecap="round" stroke-linejoin="round" />
<ellipse cx="77.8" cy="474.0" rx="1.9" ry="1.0" fill="none" stroke="#33526a" stroke-width="0.90" transform="rotate(0 77.8 474.0)"/>
<polyline points="75.8,459.0 75.8,465.5" fill="none" stroke="#33526a" stroke-width="0.90" stroke-linecap="round" stroke-linejoin="round" />
<polyline points="77.2,459.0 77.2,465.5" fill="none" stroke="#33526a" stroke-width="0.90" stroke-linecap="round" stroke-linejoin="round" />
<polyline points="78.5,459.0 78.5,465.5" fill="none" stroke="#33526a" stroke-width="0.90" stroke-linecap="round" stroke-linejoin="round" />
<polyline points="79.9,459.0 79.9,465.5" fill="none" stroke="#33526a" stroke-width="0.90" stroke-linecap="round" stroke-linejoin="round" />
<rect x="84.0" y="452.4" width="12.0" height="13.1" rx="1.6" fill="none" stroke="#33526a" stroke-width="1.1"/>
<rect x="85.3" y="453.7" width="9.4" height="11.1" rx="0.8" fill="none" stroke="#33526a" stroke-width="0.7"/>
<circle cx="90.0" cy="456.6" r="2.0" fill="none" stroke="#33526a" stroke-width="1.00"/>
<circle cx="88.3" cy="460.4" r="2.0" fill="none" stroke="#33526a" stroke-width="1.00"/>
<circle cx="92.0" cy="460.4" r="2.0" fill="none" stroke="#33526a" stroke-width="1.00"/>
<circle cx="90.0" cy="459.0" r="0.7" fill="#33526a" stroke="#33526a" stroke-width="0.00"/>
<path d="M84.9 465.5 L86.2 468.9 L93.9 468.9 L95.3 465.5" fill="none" stroke="#33526a" stroke-width="1.10" stroke-linecap="round" stroke-linejoin="round"/>
<polyline points="86.2,467.3 94.1,467.3" fill="none" stroke="#33526a" stroke-width="1.30" stroke-linecap="round" stroke-linejoin="round" />
<polyline points="90.0,469.2 90.0,471.3" fill="none" stroke="#33526a" stroke-width="1.60" stroke-linecap="round" stroke-linejoin="round" />
<path d="M90.0 471.3 L90.0 477.1 C89.8 478.4 87.6 478.4 87.4 477.1 L87.4 473.7 C87.2 472.3 85.2 472.3 85.1 473.7 L85.1 477.1 C84.9 478.4 83.2 478.4 83.0 477.1 L83.0 474.0 L81.8 474.0" fill="none" stroke="#33526a" stroke-width="1.00" stroke-linecap="round" stroke-linejoin="round"/>
<path d="M74.0 523.1 C74.0 517.9 77.4 515.2 81.1 515.4 C85.2 515.4 88.3 518.6 88.3 522.8 C88.3 526.8 85.2 529.9 81.8 530.1" fill="none" stroke="#33526a" stroke-width="1.10" stroke-linecap="round" stroke-linejoin="round"/>
<circle cx="80.3" cy="530.1" r="1.1" fill="#33526a" stroke="#33526a" stroke-width="0.00"/>
<path d="M86.9 517.6 C92.0 518.6 95.4 523.4 95.4 528.5 L97.3 532.1 L94.6 533.1 L94.9 535.0 L92.0 536.5" fill="none" stroke="#33526a" stroke-width="1.00" stroke-linecap="round" stroke-linejoin="round"/>
<path d="M94.4 536.5 C94.4 538.4 94.1 540.4 92.7 541.1 C88.6 541.1 82.5 539.1 80.4 535.5" fill="none" stroke="#33526a" stroke-width="1.00" stroke-linecap="round" stroke-linejoin="round"/>
<polyline points="87.4,541.4 87.4,544.5" fill="none" stroke="#33526a" stroke-width="1.00" stroke-linecap="round" stroke-linejoin="round" />
<path d="M75.8 531.4 C77.8 534.3 78.5 539.1 77.0 542.6" fill="none" stroke="#33526a" stroke-width="1.00" stroke-linecap="round" stroke-linejoin="round"/>
<circle cx="77.0" cy="595.5" r="4.2" fill="none" stroke="#33526a" stroke-width="1.60"/>
<path d="M74.0 596.9 C74.6 598.6 76.3 599.6 78.1 599.5" fill="none" stroke="#33526a" stroke-width="1.20" stroke-linecap="round" stroke-linejoin="round"/>
<polyline points="75.3,593.8 76.3,592.9" fill="none" stroke="#33526a" stroke-width="1.00" stroke-linecap="round" stroke-linejoin="round" />
<polyline points="75.1,588.4 75.5,589.4" fill="none" stroke="#33526a" stroke-width="1.00" stroke-linecap="round" stroke-linejoin="round" />
<polyline points="77.4,587.7 77.4,588.8" fill="none" stroke="#33526a" stroke-width="1.00" stroke-linecap="round" stroke-linejoin="round" />
<polyline points="79.6,588.4 79.3,589.4" fill="none" stroke="#33526a" stroke-width="1.00" stroke-linecap="round" stroke-linejoin="round" />
<polyline points="74.6,602.7 75.1,601.8" fill="none" stroke="#33526a" stroke-width="1.00" stroke-linecap="round" stroke-linejoin="round" />
<polyline points="77.4,603.4 77.4,602.3" fill="none" stroke="#33526a" stroke-width="1.00" stroke-linecap="round" stroke-linejoin="round" />
<polyline points="79.8,602.5 79.3,601.7" fill="none" stroke="#33526a" stroke-width="1.00" stroke-linecap="round" stroke-linejoin="round" />
<ellipse cx="84.5" cy="590.1" rx="2.2" ry="2.7" fill="none" stroke="#33526a" stroke-width="1.30" transform="rotate(0 84.5 590.1)"/>
<circle cx="84.5" cy="590.4" r="0.7" fill="#33526a" stroke="#33526a" stroke-width="0.00"/>
<rect x="87.2" y="584.3" width="6.2" height="2.6" rx="1.3" fill="none" stroke="#33526a" stroke-width="1.0" transform="rotate(-14 90.3 585.5)"/>
<circle cx="91.7" cy="592.7" r="2.9" fill="none" stroke="#33526a" stroke-width="1.20"/>
<polyline points="91.7,590.1 91.7,595.3" fill="none" stroke="#33526a" stroke-width="0.80" stroke-linecap="round" stroke-linejoin="round" />
<polyline points="89.3,592.7 94.2,592.7" fill="none" stroke="#33526a" stroke-width="0.80" stroke-linecap="round" stroke-linejoin="round" />
<polyline points="90.0,590.9 93.5,594.4" fill="none" stroke="#33526a" stroke-width="0.70" stroke-linecap="round" stroke-linejoin="round" />
<ellipse cx="86.0" cy="595.7" rx="1.8" ry="1.1" fill="#9fb0bc" stroke="#33526a" stroke-width="1.00" transform="rotate(20 86.0 595.7)"/>
<ellipse cx="89.8" cy="599.3" rx="1.9" ry="1.4" fill="none" stroke="#33526a" stroke-width="1.30" transform="rotate(-20 89.8 599.3)"/>
<circle cx="84.9" cy="602.0" r="1.6" fill="none" stroke="#33526a" stroke-width="1.30"/>
<ellipse cx="92.7" cy="604.7" rx="3.7" ry="2.9" fill="none" stroke="#33526a" stroke-width="1.30" transform="rotate(-15 92.7 604.7)"/>
<ellipse cx="92.7" cy="604.7" rx="2.5" ry="1.6" fill="none" stroke="#33526a" stroke-width="0.90" transform="rotate(-15 92.7 604.7)"/>
<polyline points="83.5,604.4 84.0,603.8" fill="none" stroke="#33526a" stroke-width="0.80" stroke-linecap="round" stroke-linejoin="round" />
<polyline points="86.6,606.4 87.1,606.1" fill="none" stroke="#33526a" stroke-width="0.80" stroke-linecap="round" stroke-linejoin="round" />
<polyline points="96.1,591.1 96.8,591.3" fill="none" stroke="#33526a" stroke-width="0.80" stroke-linecap="round" stroke-linejoin="round" />
<polyline points="95.4,600.6 96.4,600.4" fill="none" stroke="#33526a" stroke-width="0.80" stroke-linecap="round" stroke-linejoin="round" />
<polyline points="94.1,588.4 94.6,588.0" fill="none" stroke="#33526a" stroke-width="0.80" stroke-linecap="round" stroke-linejoin="round" />
<polyline points="84.9,584.6 85.3,584.5" fill="none" stroke="#33526a" stroke-width="0.80" stroke-linecap="round" stroke-linejoin="round" />
<polyline points="93.0,596.9 95.4,596.5" fill="none" stroke="#33526a" stroke-width="0.80" stroke-linecap="round" stroke-linejoin="round" />
<path d="M80.4 655.7 C83.2 653.3 88.6 653.7 90.3 656.8 C92.7 659.5 92.0 664.2 89.3 666.3 C86.6 669.0 81.1 668.0 79.1 664.9 C77.0 662.2 77.7 658.1 80.4 655.7 Z" fill="none" stroke="#33526a" stroke-width="1.20" stroke-linecap="round" stroke-linejoin="round"/>
<path d="M80.2 659.8 C81.5 656.8 83.5 655.5 85.1 654.8 C84.3 657.4 82.8 659.8 80.4 661.9 Z" fill="#33526a" stroke="#33526a" stroke-width="0.80" stroke-linecap="round" stroke-linejoin="round"/>
<circle cx="88.1" cy="660.0" r="0.8" fill="#33526a" stroke="#33526a" stroke-width="0.00"/>
<circle cx="82.1" cy="663.9" r="1.4" fill="none" stroke="#33526a" stroke-width="1.00"/>
<path d="M86.2 658.1 C85.1 661.2 85.9 664.2 88.1 666.0" fill="none" stroke="#33526a" stroke-width="0.90" stroke-linecap="round" stroke-linejoin="round"/>
<polyline points="89.3,663.2 90.7,664.2" fill="none" stroke="#33526a" stroke-width="0.90" stroke-linecap="round" stroke-linejoin="round" />
<polyline points="79.8,656.8 75.3,654.6" fill="none" stroke="#33526a" stroke-width="1.30" stroke-linecap="round" stroke-linejoin="round" />
<polyline points="84.9,654.4 84.9,651.6" fill="none" stroke="#33526a" stroke-width="1.30" stroke-linecap="round" stroke-linejoin="round" />
<polyline points="90.0,656.1 94.1,652.1" fill="none" stroke="#33526a" stroke-width="1.30" stroke-linecap="round" stroke-linejoin="round" />
<polyline points="89.3,667.0 90.8,670.7" fill="none" stroke="#33526a" stroke-width="1.30" stroke-linecap="round" stroke-linejoin="round" />
<polyline points="81.8,667.8 80.8,670.4" fill="none" stroke="#33526a" stroke-width="1.30" stroke-linecap="round" stroke-linejoin="round" />
<polyline points="79.4,666.0 77.4,669.7" fill="none" stroke="#33526a" stroke-width="1.30" stroke-linecap="round" stroke-linejoin="round" />
<polyline points="78.1,663.7 72.6,664.2" fill="none" stroke="#33526a" stroke-width="1.30" stroke-linecap="round" stroke-linejoin="round" />
<path d="M76.3 655.3 L79.4 657.4 L79.9 654.6 Z" fill="#33526a" stroke="#33526a" stroke-width="0.60" stroke-linecap="round" stroke-linejoin="round"/>
<path d="M89.6 653.7 L92.6 655.5 L89.2 657.4 Z" fill="#33526a" stroke="#33526a" stroke-width="0.60" stroke-linecap="round" stroke-linejoin="round"/>
<path d="M86.9 667.8 L90.7 666.8 L89.8 669.7 Z" fill="#33526a" stroke="#33526a" stroke-width="0.60" stroke-linecap="round" stroke-linejoin="round"/>
<path d="M72.3 655.5 L74.4 651.6 L76.9 655.3 Z" fill="none" stroke="#33526a" stroke-width="1.00" stroke-linecap="round" stroke-linejoin="round"/>
<rect x="83.5" y="649.4" width="2.7" height="2.3" fill="#5b7688" stroke="#33526a" stroke-width="0.5"/>
<path d="M93.2 649.6 L97.3 653.2 L93.9 652.5 Z" fill="none" stroke="#33526a" stroke-width="1.00" stroke-linecap="round" stroke-linejoin="round"/>
<rect x="92.6" y="660.8" width="3.0" height="2.0" fill="#5b7688" stroke="#33526a" stroke-width="0.4"/>
<path d="M90.0 673.9 L90.5 670.5 L93.5 670.5 L91.9 672.4" fill="none" stroke="#33526a" stroke-width="1.10" stroke-linecap="round" stroke-linejoin="round"/>
<polyline points="74.2,671.9 77.8,671.9" fill="none" stroke="#33526a" stroke-width="0.90" stroke-linecap="round" stroke-linejoin="round" />
<polyline points="75.1,670.1 77.0,673.6" fill="none" stroke="#33526a" stroke-width="0.90" stroke-linecap="round" stroke-linejoin="round" />
<polyline points="77.0,670.1 75.1,673.6" fill="none" stroke="#33526a" stroke-width="0.90" stroke-linecap="round" stroke-linejoin="round" />
<circle cx="76.0" cy="671.9" r="0.6" fill="#ffffff" stroke="#33526a" stroke-width="0.00"/>
<polyline points="78.8,671.9 82.3,671.9" fill="none" stroke="#33526a" stroke-width="0.90" stroke-linecap="round" stroke-linejoin="round" />
<polyline points="79.6,670.1 81.5,673.6" fill="none" stroke="#33526a" stroke-width="0.90" stroke-linecap="round" stroke-linejoin="round" />
<polyline points="81.5,670.1 79.6,673.6" fill="none" stroke="#33526a" stroke-width="0.90" stroke-linecap="round" stroke-linejoin="round" />
<circle cx="80.6" cy="671.9" r="0.6" fill="#ffffff" stroke="#33526a" stroke-width="0.00"/>
</svg></body></html>
